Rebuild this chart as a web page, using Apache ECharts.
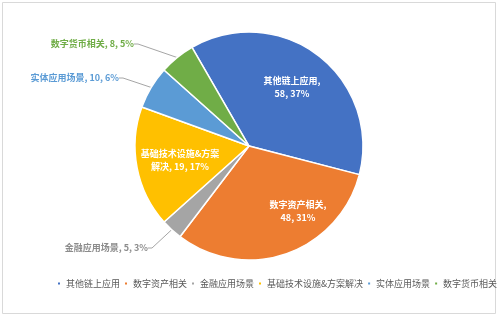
<!DOCTYPE html>
<html><head><meta charset="utf-8">
<script src="https://cdn.jsdelivr.net/npm/echarts@6/dist/echarts.min.js"></script>
<style>html,body{margin:0;padding:0;background:#fff}#c{width:498px;height:316px}</style>
</head><body><div id="c"></div>
<script>
const categories = ['其他链上应用','数字资产相关','金融应用场景','基础技术设施&方案解决','实体应用场景','数字货币相关'];
const counts = [58, 48, 5, 19, 10, 8];
const percents = [37, 31, 3, 17, 6, 5];
const colors = ['#4472C4','#ED7D31','#A5A5A5','#FFC000','#5B9BD5','#70AD47'];

const font = '"Noto Sans CJK SC", sans-serif';
const insideIdx = [0,1,3];
const labelText = [
  '其他链上应用,\n' + counts[0] + ', ' + percents[0] + '%',
  '数字资产相关,\n' + counts[1] + ', ' + percents[1] + '%',
  categories[2] + ', ' + counts[2] + ', ' + percents[2] + '%',
  '基础技术设施&方案\n解决, ' + counts[3] + ', ' + percents[3] + '%',
  categories[4] + ', ' + counts[4] + ', ' + percents[4] + '%',
  categories[5] + ', ' + counts[5] + ', ' + percents[5] + '%'
];
// label anchor tweaks (not mark coordinates)
const layoutTweaks = {
  0: {x: 292, y: 87},
  1: {x: 298, y: 211},
  3: {x: 180, y: 160},
  2: {x: 148, y: 248, align: 'right'},
  4: {x: 119, y: 78, align: 'right'},
  5: {x: 134, y: 44, align: 'right'}
};

const data = categories.map((name, i) => ({
  name: name,
  value: percents[i],
  itemStyle: {color: colors[i]},
  label: insideIdx.includes(i)
    ? {position: 'inside', color: '#fff', fontSize: 9, lineHeight: 13, fontWeight: 'bold', align: 'center'}
    : {position: 'outside', color: colors[i] === '#A5A5A5' ? '#8c8c8c' : colors[i], fontSize: 9, fontWeight: 'bold'},
  labelLine: {show: !insideIdx.includes(i), length: 8, length2: 4, lineStyle: {color: '#A6A6A6', width: 1}}
}));

const chart = echarts.init(document.getElementById('c'));
chart.setOption({
  backgroundColor: '#fff',
  animation: false,
  textStyle: {fontFamily: font},
  graphic: [{type: 'rect', shape: {x: 2.5, y: 2.5, width: 493, height: 311}, style: {fill: 'none', stroke: '#D9D9D9', lineWidth: 1}}],
  legend: {
    left: 56, top: 279, width: 1000, padding: 0,
    itemWidth: 4, itemHeight: 4, itemGap: 3,
    icon: 'rect',
    textStyle: {fontSize: 9, color: '#595959', fontFamily: font},
    data: categories
  },
  series: [{
    type: 'pie',
    center: [249, 146],
    radius: [0, 114],
    startAngle: 120,
    clockwise: true,
    avoidLabelOverlap: false,
    itemStyle: {borderColor: '#fff', borderWidth: 1.5},
    label: {formatter: p => labelText[p.dataIndex], fontFamily: font},
    labelLayout: function (p) {
      const t = layoutTweaks[p.dataIndex];
      const o = {x: t.x, y: t.y, verticalAlign: 'middle'};
      if (t.align) o.align = t.align; else o.align = 'center';
      return o;
    },
    data: data
  }]
});
</script></body></html>
